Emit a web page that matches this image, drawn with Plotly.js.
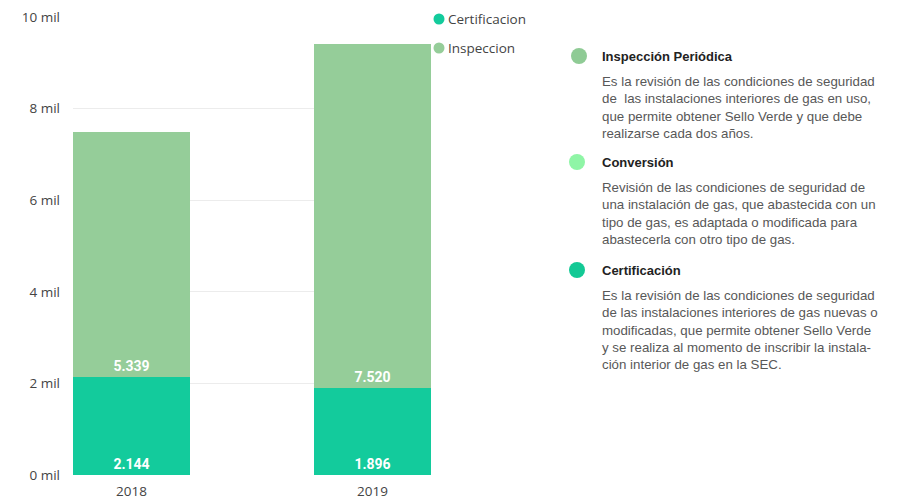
<!DOCTYPE html>
<html>
<head>
<meta charset="utf-8">
<script src="https://cdn.plot.ly/plotly-3.0.1.min.js"></script>
<style>
  html, body { margin: 0; padding: 0; background: #fff; }
  #chart { width: 901px; height: 499px; }
</style>
</head>
<body>
<div id="chart"></div>
<script>
// data
const years = ["2018", "2019"];
const certificacion = [2144, 1896];
const inspeccion = [5339, 7520];

const yTickVals = [0, 2000, 4000, 6000, 8000, 10000];
const yTickText = ["0 mil", "2 mil", "4 mil", "6 mil", "8 mil", "10 mil"];

const legendNames = ["Certificacion", "Inspeccion"];

const notes = [
  {
    title: "Inspección Periódica",
    body: "Es la revisión de las condiciones de seguridad<br>de  las instalaciones interiores de gas en uso,<br>que permite obtener Sello Verde y que debe<br>realizarse cada dos años.",
    color: "#8fcb95"
  },
  {
    title: "Conversión",
    body: "Revisión de las condiciones de seguridad de<br>una instalación de gas, que abastecida con un<br>tipo de gas, es adaptada o modificada para<br>abastecerla con otro tipo de gas.",
    color: "#8ff5a6"
  },
  {
    title: "Certificación",
    body: "Es la revisión de las condiciones de seguridad<br>de las instalaciones interiores de gas nuevas o<br>modificadas, que permite obtener Sello Verde<br>y se realiza al momento de inscribir la instala-<br>ción interior de gas en la SEC.",
    color: "#13c995"
  }
];

const cCert = "#13cb9c";
const cInsp = "#95cd99";

// plot box in pixels
const L = 73, R = 431, T = 17, B = 475;
const W = 901, H = 499;
const px = x => (x - L) / (R - L);
const py = y => (B - y) / (B - T);

const labelFont = { family: "Roboto, sans-serif", size: 14, color: "#ffffff", weight: 700 };
const axisFont = { family: "Open Sans, sans-serif", size: 13.5, color: "#444" };

const traces = [
  {
    type: "bar", name: "Certificacion", x: years, y: certificacion,
    marker: { color: cCert }, width: 0.485,
    texttemplate: "%{y:,.0f}", textposition: "inside", insidetextanchor: "start",
    textfont: labelFont, textangle: 0, hoverinfo: "skip"
  },
  {
    type: "bar", name: "Inspeccion", x: years, y: inspeccion,
    marker: { color: cInsp }, width: 0.485,
    texttemplate: "%{y:,.0f}", textposition: "inside", insidetextanchor: "start",
    textfont: labelFont, textangle: 0, hoverinfo: "skip"
  }
];

const shapes = [];
const annotations = [];

// legend (top right of the plot)
const legendColors = [cCert, cInsp];
const legendY = [19, 48];
legendNames.forEach((n, i) => {
  const r = 5.5;
  shapes.push({
    type: "circle", xref: "paper", yref: "paper",
    x0: px(439 - r), x1: px(439 + r), y0: py(legendY[i] + r), y1: py(legendY[i] - r),
    fillcolor: legendColors[i], line: { width: 0 }
  });
  annotations.push({
    xref: "paper", yref: "paper", x: px(446), y: py(legendY[i]),
    xanchor: "left", yanchor: "middle", showarrow: false, text: n,
    font: { family: "Open Sans, sans-serif", size: 13.5, color: "#444" }
  });
});

// explanation panel on the right
const titleY = [56, 162, 270];
const circleX = [579, 577, 577];
notes.forEach((n, i) => {
  const r = 8;
  shapes.push({
    type: "circle", xref: "paper", yref: "paper",
    x0: px(circleX[i] - r), x1: px(circleX[i] + r), y0: py(titleY[i] + r), y1: py(titleY[i] - r),
    fillcolor: n.color, line: { width: 0 }
  });
  annotations.push({
    xref: "paper", yref: "paper", x: px(600), y: py(titleY[i]),
    xanchor: "left", yanchor: "middle", showarrow: false,
    text: "<b>" + n.title + "</b>",
    font: { family: "Liberation Sans, Arial, sans-serif", size: 13, color: "#222" }
  });
  annotations.push({
    xref: "paper", yref: "paper", x: px(600), y: py(titleY[i] + 16),
    xanchor: "left", yanchor: "top", showarrow: false, align: "left",
    text: n.body,
    font: { family: "Liberation Sans, Arial, sans-serif", size: 13.3, color: "#585858" }
  });
});

const layout = {
  width: W, height: H,
  margin: { l: L, r: W - R, t: T, b: H - B, pad: 0 },
  paper_bgcolor: "#fff", plot_bgcolor: "#fff",
  barmode: "stack",
  showlegend: false,
  separators: ",.",
  xaxis: {
    type: "category", range: [-0.2427, 1.2427],
    showgrid: false, zeroline: false, showline: false, ticks: "",
    ticklabelstandoff: 6,
    tickfont: axisFont
  },
  yaxis: {
    range: [0, 10000], tickvals: yTickVals, ticktext: yTickText,
    showgrid: true, gridcolor: "#ececec", gridwidth: 1,
    zeroline: false, showline: false, ticks: "", ticklabelstandoff: 12,
    tickfont: axisFont
  },
  uniformtext: { mode: "show", minsize: 10 },
  shapes: shapes,
  annotations: annotations
};

Plotly.newPlot("chart", traces, layout, { staticPlot: true, displayModeBar: false });
</script>
</body>
</html>
